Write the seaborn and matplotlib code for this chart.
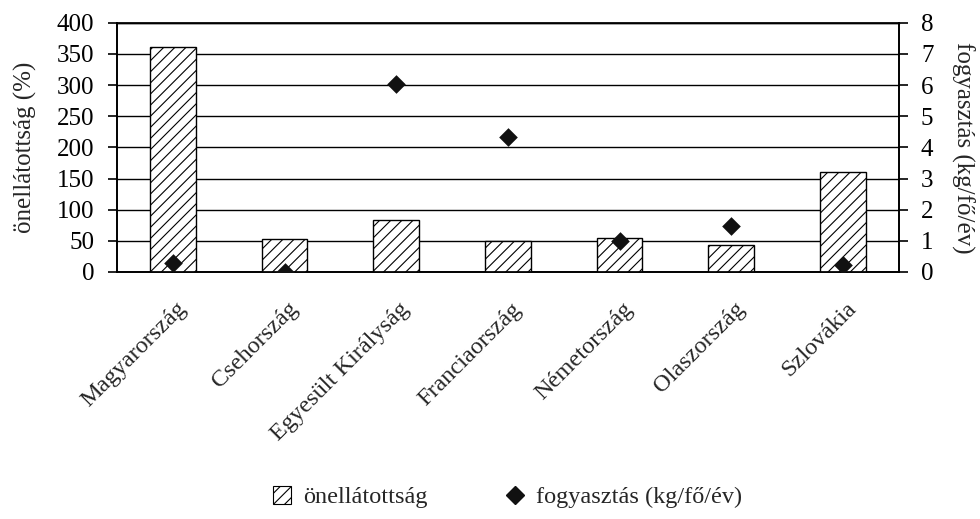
import matplotlib
matplotlib.use("Agg")
import matplotlib.pyplot as plt
import matplotlib.transforms as mtransforms
import seaborn as sns
import numpy as np
from matplotlib.patches import Patch
from matplotlib.lines import Line2D

countries = ["Magyarország", "Csehország", "Egyesült Királyság", "Franciaország",
             "Németország", "Olaszország", "Szlovákia"]
self_sufficiency = [361, 53, 84, 50, 55, 43, 161]
consumption = [0.28, 0.0, 6.03, 4.32, 1.0, 1.49, 0.22]
left_ticks = [0, 50, 100, 150, 200, 250, 300, 350, 400]
right_ticks = [0, 1, 2, 3, 4, 5, 6, 7, 8]

sns.set_theme(style="white")
plt.rcParams['font.family'] = ['Liberation Serif', 'DejaVu Serif']
plt.rcParams['hatch.linewidth'] = 0.8
FS = 18
FSX = 17.5
FSL = 17.5

fig = plt.figure(figsize=(9.8, 5.19), dpi=100)
ax = fig.add_axes([0.1194, 0.476, 0.7976, 0.480])

sns.barplot(x=countries, y=self_sufficiency, ax=ax, color="white", edgecolor="black",
            linewidth=1.0, hatch="///", width=0.41, saturation=1, zorder=3)
for p in ax.patches:
    p.set_hatch("///")
    p.set_facecolor("white")
    p.set_edgecolor("black")

ax.set_ylim(0, 400)
ax.set_xlim(-0.5, 6.5)
ax.set_yticks(left_ticks)
ax.set_yticklabels([str(t) for t in left_ticks], fontsize=FS)
ax.yaxis.grid(True, color="black", linewidth=1.0, zorder=0)
ax.set_axisbelow(True)
ax.tick_params(axis="y", direction="out", length=6.5, width=1.2, colors="black", pad=10)
ax.set_xticks(range(len(countries)))
ax.set_xticklabels(countries, rotation=45, ha="right", rotation_mode="anchor", fontsize=FSX)
ax.tick_params(axis="x", which="major", length=0, pad=19)
offset = mtransforms.ScaledTranslation(3 / 100, 0, fig.dpi_scale_trans)
for lbl in ax.get_xticklabels():
    lbl.set_transform(lbl.get_transform() + offset)
ax.set_xticks(np.arange(-0.5, 7.0, 1.0), minor=True)
ax.tick_params(axis="x", which="minor", direction="out", length=6, width=1.2, colors="black")
ax.set_ylabel("önellátottság (%)", fontsize=FS, labelpad=14)
ax.set_xlabel("")
for s in ["left", "bottom", "right", "top"]:
    ax.spines[s].set_visible(True)
    ax.spines[s].set_color("black")
    ax.spines[s].set_linewidth(1.2)
ax.spines["top"].set_linewidth(1.0)

ax2 = ax.twinx()
sns.stripplot(x=countries, y=consumption, ax=ax2, jitter=False, marker="D",
              color="#111111", size=9.5, linewidth=0, zorder=5)
ax2.set_xlim(-0.5, 6.5)
ax2.set_ylim(0, 8)
ax2.set_yticks(right_ticks)
ax2.set_yticklabels([str(t) for t in right_ticks], fontsize=FS)
ax2.tick_params(axis="y", direction="out", length=6.5, width=1.2, colors="black", pad=9.5)
ax2.set_ylabel("fogyasztás (kg/fő/év)", fontsize=FS, rotation=270, labelpad=29.5)
for s in ["left", "bottom", "right", "top"]:
    ax2.spines[s].set_visible(True)
    ax2.spines[s].set_color("black")
ax2.spines["right"].set_linewidth(1.2)
ax2.grid(False)

handles = [Patch(facecolor="white", edgecolor="black", hatch="///", linewidth=0.8),
           Line2D([], [], marker="D", color="#111111", linestyle="none", markersize=9)]
labels = ["önellátottság", "fogyasztás (kg/fő/év)"]
fig.legend(handles, labels, loc="center", bbox_to_anchor=(0.518, 0.042), ncol=2,
           frameon=False, fontsize=FSL, handlelength=0.75, handleheight=0.75,
           columnspacing=3.2, handletextpad=0.5)

fig.savefig("out.png", dpi=100, facecolor="white")
